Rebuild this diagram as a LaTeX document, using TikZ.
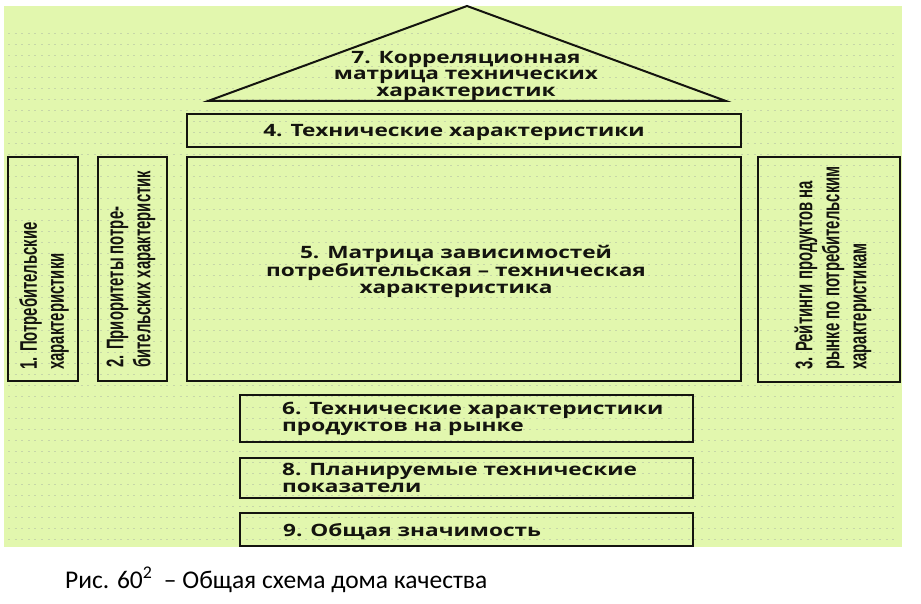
\documentclass[tikz,border=0pt]{standalone}
\usepackage{fontspec}
\usetikzlibrary{positioning}
\setmainfont{Open Sans}
\newfontfamily\housefont[FakeStretch=1.33]{Open Sans}
\newfontfamily\sidefont[FakeStretch=0.62]{Liberation Sans}
\newfontfamily\captionfont{Carlito}
\definecolor{housegreen}{RGB}{226,247,174}
\definecolor{dotgray}{RGB}{198,214,168}
\definecolor{inkblack}{RGB}{20,20,15}

\begin{document}
\begin{tikzpicture}[x=1pt, y=-1pt,
    box/.style={draw=inkblack, line width=2pt, inner sep=0pt},
    housetext/.style={font=\housefont\bfseries\fontsize{17}{#1}\selectfont, text=inkblack, inner sep=0pt, align=center},
    housetext/.default=17,
    sidetext/.style={font=\sidefont\bfseries\fontsize{24}{27}\selectfont, text=inkblack, inner sep=0pt, align=left, rotate=90, anchor=west},
    dotline/.style={dotgray, line width=0.8pt, dash pattern=on 2pt off 4.6pt}]

    \useasboundingbox (0,0) rectangle (921,604);
    % Background
    \fill[white] (0,0) rectangle (921,604);
    \fill[housegreen] (4,6) rectangle (902,547);
    \foreach \yy in {33,44,...,543}
        \draw[dotline] (8,\yy) -- (895,\yy);

    % Roof
    \coordinate (roofleft) at (208,101);
    \coordinate (rooftop) at (467,6);
    \coordinate (roofright) at (726,101);
    \draw[inkblack, line width=2pt] (roofleft) -- (rooftop) -- (roofright) -- cycle;
    \node[housetext=16.5] (rooftext) at (466,75.5) {7. Корреляционная\\матрица технических\\характеристик};

    % Boxes
    \node[box, minimum width=554, minimum height=33] (techbox) at (464,130.5) {};
    \node[box, minimum width=554, minimum height=224] (matrixbox) at (464,269) {};
    \node[box, minimum width=70, minimum height=224] (needsbox) at (43,269) {};
    \node[box, minimum width=69, minimum height=224] (prioritybox) at (132.5,269) {};
    \node[box, minimum width=142, minimum height=224] (ratingbox) at (829,269.5) {};
    \node[box, minimum width=453, minimum height=47] (marketbox) at (466.5,418) {};
    \node[box, minimum width=453, minimum height=40] (plannedbox) at (466.5,478) {};
    \node[box, minimum width=453, minimum height=33] (totalbox) at (466.5,529.5) {};

    % Texts
    \node[housetext] (techtext) at ([xshift=-10pt, yshift=-1.5pt]techbox.center) {4. Технические характеристики};
    \node[housetext] (matrixtext) at ([xshift=-8pt, yshift=-2pt]matrixbox.center) {5. Матрица зависимостей\\потребительская – техническая\\характеристика};
    \node[housetext=17, align=left, anchor=west] (markettext) at ([xshift=43pt, yshift=-1pt]marketbox.west) {6. Технические характеристики\\продуктов на рынке};
    \node[housetext=17, align=left, anchor=west] (plannedtext) at ([xshift=43pt]plannedbox.west) {8. Планируемые технические\\показатели};
    \node[housetext, align=left, anchor=west] (totaltext) at ([xshift=44pt, yshift=-2pt]totalbox.west) {9. Общая значимость};

    \node[sidetext] (needstext) at (44,370) {1. Потребительские\\характеристики};
    \node[sidetext] (prioritytext) at (131,368) {2. Приоритеты потре-\\бительских характеристик};
    \node[sidetext] (ratingtext) at (833,370) {3. Рейтинги продуктов на\\рынке по потребительским\\характеристикам};

    % Caption
    \node[font=\captionfont\fontsize{25.5}{30}\selectfont, anchor=base west, inner sep=0pt] (caption) at (65,588) {Рис. 60\textsuperscript{2}\ \ – Общая схема дома качества};
\end{tikzpicture}
\end{document}
